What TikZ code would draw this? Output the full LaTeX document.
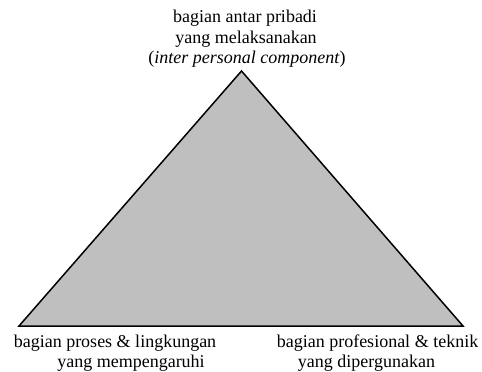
\documentclass[tikz,border=0pt]{standalone}
\usepackage{fontspec}
\setmainfont{Liberation Serif}
\begin{document}
\begin{tikzpicture}[x=1pt,y=-1pt,
  lbl/.style={font=\fontsize{18}{20}\selectfont,inner sep=0pt,anchor=base}]
\useasboundingbox (0,0) rectangle (482,372);
\coordinate (A) at (241.5,71);
\coordinate (B) at (19,326);
\coordinate (C) at (463,326);
\filldraw[fill=black!25,draw=black,line width=1.5pt,line join=miter] (A) -- (B) -- (C) -- cycle;
\node[lbl] (t1) at (245,22) {bagian antar pribadi};
\node[lbl] (t2) at (246,43) {yang melaksanakan};
\node[lbl] (t3) at (247,63) {(\textit{inter personal component})};
\node[lbl] (l1) at (115,347) {bagian proses \& lingkungan};
\node[lbl] (l2) at (131,367) {yang mempengaruhi};
\node[lbl] (r1) at (377.5,347) {bagian profesional \& teknik};
\node[lbl] (r2) at (366.5,367) {yang dipergunakan};
\end{tikzpicture}
\end{document}
